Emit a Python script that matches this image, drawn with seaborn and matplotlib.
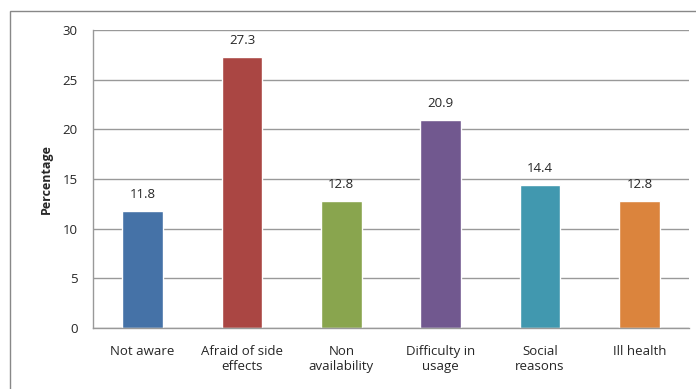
import matplotlib
matplotlib.use("Agg")
import matplotlib.pyplot as plt
from matplotlib.patches import Rectangle
import seaborn as sns
import pandas as pd

categories = ["Not aware", "Afraid of side\neffects", "Non\navailability",
              "Difficulty in\nusage", "Social\nreasons", "Ill health"]
values = [11.8, 27.3, 12.8, 20.9, 14.4, 12.8]
colors = ["#4572A7", "#AA4643", "#89A54E", "#71588F", "#4198AF", "#DB843D"]
yticks = [0, 5, 10, 15, 20, 25, 30]

sns.set_theme(style="white")
plt.rcParams["font.family"] = ["Open Sans", "DejaVu Sans"]

df = pd.DataFrame({"reason": categories, "pct": values})

fig = plt.figure(figsize=(6.96, 3.89), dpi=100)
ax = fig.add_axes([0.1336, 0.1568, 0.8564, 0.7661])

sns.barplot(data=df, x="reason", y="pct", hue="reason", palette=colors,
            width=0.41, legend=False, ax=ax, saturation=1)

ax.set_ylim(0, 30)
ax.set_xlim(-0.5, len(categories) - 0.5)
ax.set_yticks(yticks)
ax.set_yticklabels([str(t) for t in yticks], fontsize=9.5)
ax.tick_params(axis="x", labelsize=9.5, length=0, pad=12)
ax.tick_params(axis="y", length=0, pad=11)
ax.yaxis.grid(True, color="#999999", linewidth=1)
ax.set_axisbelow(True)
for side in ["top", "right"]:
    ax.spines[side].set_visible(False)
for side in ["left", "bottom"]:
    ax.spines[side].set_color("#999999")
    ax.spines[side].set_linewidth(1)

ax.set_xlabel("")
ax.set_ylabel("Percentage", fontsize=9, fontweight="bold", labelpad=7)

for i, v in enumerate(values):
    ax.text(i, v + 1.0, f"{v}", ha="center", va="bottom", fontsize=9.5)

# outer chart frame
fig.patches.append(Rectangle((10 / 696, -0.1), 1.2, 1 - 11 / 389 + 0.1,
                             transform=fig.transFigure, fill=False,
                             edgecolor="#888888", linewidth=1))

fig.savefig("out.png", dpi=100)
